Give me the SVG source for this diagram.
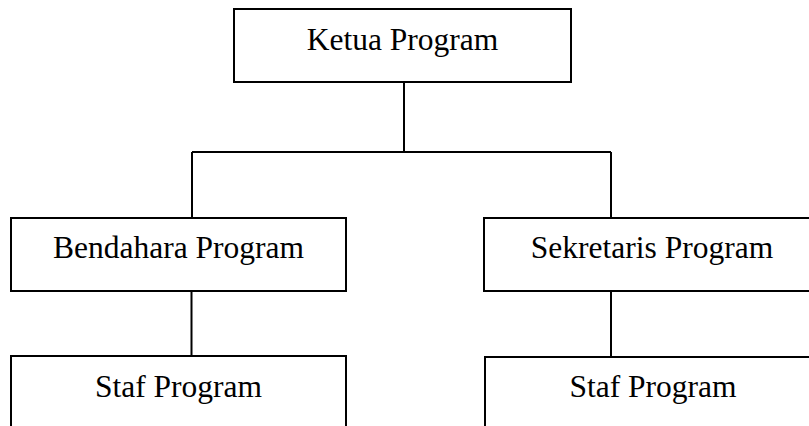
<svg xmlns="http://www.w3.org/2000/svg" width="809" height="426" viewBox="0 0 809 426">
<style>
.box{fill:#fff;stroke:#000;stroke-width:2}
.lbl{font-family:"Liberation Serif","Times New Roman",serif;font-size:31.5px;fill:#000;text-anchor:middle}
.con{fill:none;stroke:#000;stroke-width:2}
</style>
<rect width="809" height="426" fill="#fff"/>
<g id="connectors">
<path class="con" d="M404 83 V152 M192 152 H611 M192 152 V218 M611 152 V218 M191.5 291 V356 M611 291 V357"/>
</g>
<g id="ketua">
<rect class="box" x="234" y="9" width="337" height="73"/>
<text class="lbl" x="402.5" y="50">Ketua Program</text>
</g>
<g id="bendahara">
<rect class="box" x="11" y="218" width="335" height="73"/>
<text class="lbl" x="178.5" y="258">Bendahara Program</text>
</g>
<g id="sekretaris">
<rect class="box" x="484" y="218" width="336" height="73"/>
<text class="lbl" x="652" y="258">Sekretaris Program</text>
</g>
<g id="staf-left">
<rect class="box" x="11" y="356" width="335" height="80"/>
<text class="lbl" x="178.5" y="397">Staf Program</text>
</g>
<g id="staf-right">
<rect class="box" x="485" y="357" width="336" height="80"/>
<text class="lbl" x="653" y="397">Staf Program</text>
</g>
</svg>
